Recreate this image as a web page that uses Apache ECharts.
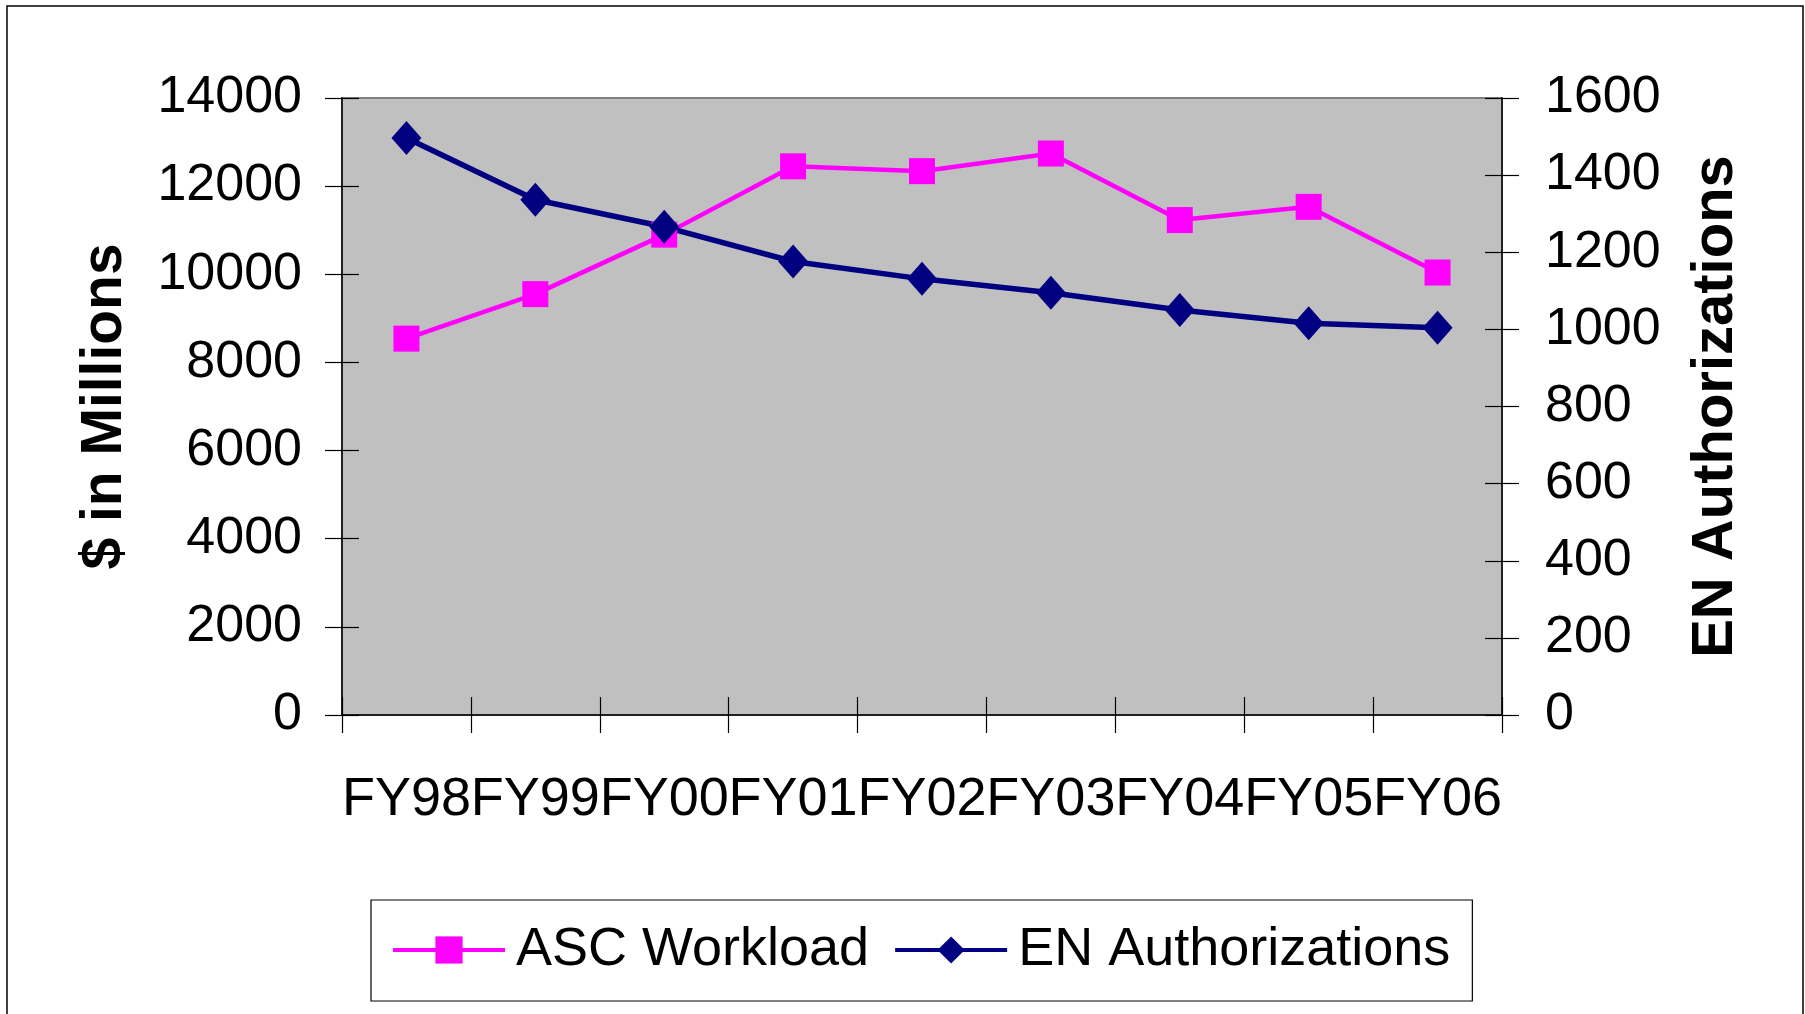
<!DOCTYPE html>
<html>
<head>
<meta charset="utf-8">
<script src="https://cdn.jsdelivr.net/npm/echarts@6/dist/echarts.min.js"></script>
<style>
  html, body { margin: 0; padding: 0; background: #fff; }
  #chart { width: 1805px; height: 1014px; }
</style>
</head>
<body>
<div id="chart"></div>
<script>
const years = ['FY98', 'FY99', 'FY00', 'FY01', 'FY02', 'FY03', 'FY04', 'FY05', 'FY06'];
const ascWorkload = [8540, 9550, 10900, 12450, 12340, 12740, 11230, 11530, 10040];
const enAuthorizations = [1496, 1336, 1266, 1176, 1131, 1095, 1050, 1016, 1004];
const leftTicks = { min: 0, max: 14000, interval: 2000 };
const rightTicks = { min: 0, max: 1600, interval: 200 };

const FONT = 'Liberation Sans, Arial, sans-serif';
const gridBox = { left: 342, right: 303, top: 98, bottom: 299 };
const plain = (v) => String(v);

const chart = echarts.init(document.getElementById('chart'));

chart.setOption({
  animation: false,
  backgroundColor: '#fff',
  textStyle: { fontFamily: FONT },
  graphic: [
    {
      type: 'rect',
      shape: { x: 7, y: 6, width: 1796, height: 1030 },
      style: { fill: 'none', stroke: '#000', lineWidth: 1.5 },
      silent: true
    }
  ],
  legend: {
    left: 371,
    top: 900,
    orient: 'horizontal',
    padding: [23, 22, 24, 20],
    borderColor: '#000',
    borderWidth: 1.2,
    itemWidth: 112,
    itemHeight: 34,
    itemGap: 24,
    textStyle: { fontFamily: FONT, fontSize: 54, color: '#000', padding: [0, 0, 0, 6] },
    data: [
      { name: 'ASC Workload', lineStyle: { width: 4 } },
      { name: 'EN Authorizations', lineStyle: { width: 4 } }
    ]
  },
  grid: [
    Object.assign({ show: true, backgroundColor: '#C0C0C0', borderColor: '#808080', borderWidth: 2 }, gridBox),
    Object.assign({ show: false }, gridBox)
  ],
  xAxis: [
    {
      type: 'category',
      gridIndex: 0,
      data: years,
      boundaryGap: true,
      axisLine: { lineStyle: { color: '#000', width: 1.5 } },
      axisTick: { show: true, length: 18, lineStyle: { color: '#000', width: 1.2 } },
      axisLabel: { interval: 0, margin: 58, color: '#000', fontSize: 54, fontFamily: FONT },
      splitLine: { show: false }
    },
    {
      type: 'category',
      gridIndex: 1,
      data: years,
      boundaryGap: true,
      axisLine: { show: false },
      axisTick: { show: true, inside: true, length: 18, lineStyle: { color: '#000', width: 1.2 } },
      axisLabel: { show: false },
      splitLine: { show: false }
    }
  ],
  yAxis: [
    {
      type: 'value',
      gridIndex: 0,
      position: 'left',
      min: leftTicks.min,
      max: leftTicks.max,
      interval: leftTicks.interval,
      name: '$ in Millions',
      nameLocation: 'middle',
      nameRotate: 90,
      nameGap: 208,
      nameTextStyle: { fontFamily: FONT, fontSize: 57, fontWeight: 'bold', color: '#000' },
      axisLine: { show: true, lineStyle: { color: '#000', width: 1.5 } },
      axisTick: { show: true, length: 17, lineStyle: { color: '#000', width: 1.2 } },
      axisLabel: { margin: 40, color: '#000', fontSize: 52, fontFamily: FONT, formatter: plain },
      splitLine: { show: false }
    },
    {
      type: 'value',
      gridIndex: 0,
      position: 'right',
      min: rightTicks.min,
      max: rightTicks.max,
      interval: rightTicks.interval,
      name: 'EN Authorizations',
      nameLocation: 'middle',
      nameRotate: 90,
      nameGap: 185,
      nameTextStyle: { fontFamily: FONT, fontSize: 58, fontWeight: 'bold', color: '#000' },
      axisLine: { show: true, lineStyle: { color: '#000', width: 1.5 } },
      axisTick: { show: true, length: 17, lineStyle: { color: '#000', width: 1.2 } },
      axisLabel: { margin: 43, color: '#000', fontSize: 52, fontFamily: FONT, formatter: plain },
      splitLine: { show: false }
    },
    {
      type: 'value',
      gridIndex: 1,
      position: 'left',
      min: leftTicks.min,
      max: leftTicks.max,
      interval: leftTicks.interval,
      axisLine: { show: false },
      axisTick: { show: true, inside: true, length: 17, lineStyle: { color: '#000', width: 1.2 } },
      axisLabel: { show: false },
      splitLine: { show: false }
    },
    {
      type: 'value',
      gridIndex: 1,
      position: 'right',
      min: rightTicks.min,
      max: rightTicks.max,
      interval: rightTicks.interval,
      axisLine: { show: false },
      axisTick: { show: true, inside: true, length: 17, lineStyle: { color: '#000', width: 1.2 } },
      axisLabel: { show: false },
      splitLine: { show: false }
    }
  ],
  series: [
    {
      name: 'ASC Workload',
      type: 'line',
      xAxisIndex: 0,
      yAxisIndex: 0,
      data: ascWorkload,
      symbol: 'rect',
      symbolSize: 26,
      showAllSymbol: true,
      lineStyle: { color: '#FF00FF', width: 4.5 },
      itemStyle: { color: '#FF00FF' }
    },
    {
      name: 'EN Authorizations',
      type: 'line',
      xAxisIndex: 0,
      yAxisIndex: 1,
      data: enAuthorizations,
      symbol: 'diamond',
      symbolSize: [30, 34],
      showAllSymbol: true,
      lineStyle: { color: '#000080', width: 5.5 },
      itemStyle: { color: '#000080' }
    }
  ]
});
</script>
</body>
</html>
